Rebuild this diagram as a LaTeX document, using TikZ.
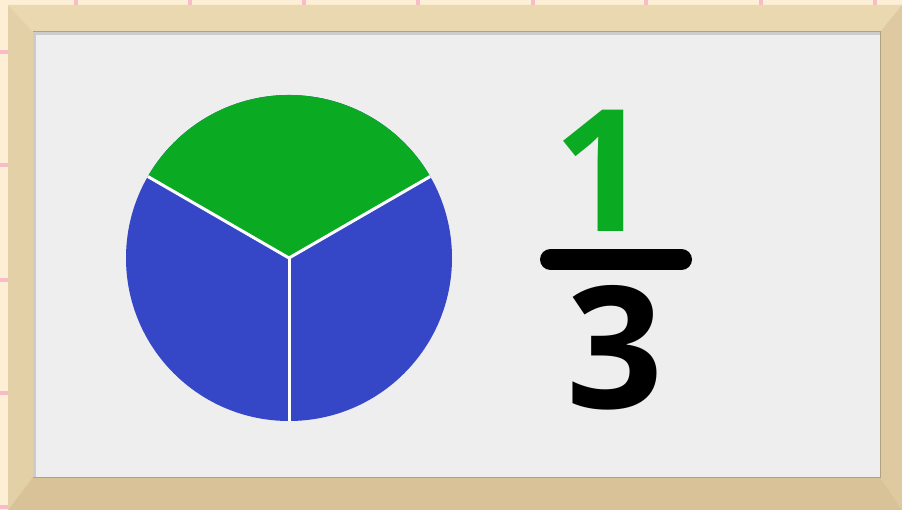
\documentclass[tikz,border=0pt]{standalone}
\usepackage{fontspec}
\setmainfont{Open Sans}
\definecolor{peach}{HTML}{FDEFD5}
\definecolor{gridpink}{HTML}{F7BCC6}
\definecolor{woodtop}{HTML}{EAD8B0}
\definecolor{woodleft}{HTML}{E4D0A6}
\definecolor{woodright}{HTML}{DFC9A0}
\definecolor{woodbot}{HTML}{D9C298}
\definecolor{board}{HTML}{EEEEEE}
\definecolor{piegreen}{HTML}{0AAA22}
\definecolor{pieblue}{HTML}{3546C7}
\begin{document}
\begin{tikzpicture}[x=1pt,y=-1pt]
\useasboundingbox (0,0) rectangle (902,510);
% background with grid marks
\fill[peach] (0,0) rectangle (902,510);
\foreach \x in {76,190,304,418,533,646,761,875} \fill[gridpink] (\x-2,0) rectangle (\x+2,5);
\foreach \y in {52,165,280,393,507} \fill[gridpink] (0,\y-2) rectangle (8,\y+2);
% wooden frame
\fill[woodtop] (8,5) -- (902,5) -- (880,32) -- (33,32) -- cycle;
\fill[woodleft] (8,5) -- (33,32) -- (33,477) -- (8,510) -- cycle;
\fill[woodright] (902,5) -- (880,32) -- (880,477) -- (902,510) -- cycle;
\fill[woodbot] (8,510) -- (33,477) -- (880,477) -- (902,510) -- cycle;
\draw[woodright!80!black,line width=1] (33,32) rectangle (880,477);
% board
\fill[board] (33,32) rectangle (880,477);
\fill[gray!40] (33,32) rectangle (880,35);
\fill[gray!40] (33,32) rectangle (36,477);
% pie in thirds
\coordinate (c) at (289,258);
\fill[pieblue] (c) circle[radius=163];
\fill[piegreen] (c) -- ++(-30:163) arc[start angle=-30,end angle=-150,radius=163] -- cycle;
\foreach \a in {-30,-150,90} \draw[white,line width=3] (c) -- ++(\a:163);
% fraction
\node[font=\fontsize{170}{170}\selectfont\bfseries,text=piegreen,anchor=base,inner sep=0] (num) at (602,232) {1};
\coordinate (bar-l) at (550.5,259.5);
\coordinate (bar-r) at (681.5,259.5);
\draw[line width=21,line cap=round] (bar-l) -- (bar-r);
\node[font=\fontsize{170}{170}\selectfont\bfseries,anchor=base,inner sep=0] (den) at (615,408) {3};
\end{tikzpicture}
\end{document}
